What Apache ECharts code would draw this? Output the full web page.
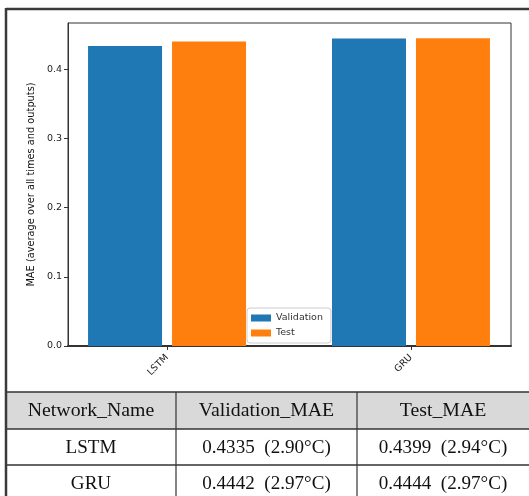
<!DOCTYPE html>
<html>
<head>
<meta charset="utf-8">
<script src="https://cdn.jsdelivr.net/npm/echarts@6/dist/echarts.min.js"></script>
<style>
html,body{margin:0;padding:0;background:#fff;}
#c{width:529px;height:496px;}
</style>
</head>
<body>
<div id="c"></div>
<script>
const categories = ['LSTM', 'GRU'];
const seriesNames = ['Validation', 'Test'];
const validationMAE = [0.4335, 0.4442];
const testMAE = [0.4399, 0.4444];
const validationDeg = ['2.90', '2.97'];
const testDeg = ['2.94', '2.97'];
const yTicks = [0, 0.1, 0.2, 0.3, 0.4];
const tableHeader = ['Network_Name', 'Validation_MAE', 'Test_MAE'];

const chart = echarts.init(document.getElementById('c'), null, {renderer: 'canvas'});

const tickFont = {fontFamily: 'DejaVu Sans', fontSize: 9.5, color: '#222'};

// Table geometry
const colX = [6, 176, 357, 529];
const colCenters = [91, 266.5, 443];
const rowY = [392, 429, 465, 500];
const rowCenters = [411, 448.5, 484];
const serif = {fontFamily: 'Liberation Serif', fontSize: 18, fill: '#111'};

const graphics = [];
graphics.push({type: 'rect', shape: {x: 6, y: rowY[0], width: 523, height: rowY[1] - rowY[0]}, style: {fill: '#d9d9d9'}, z: 0});
rowY.slice(0, 3).forEach(y => {
  graphics.push({type: 'line', shape: {x1: 6, y1: y, x2: 529, y2: y}, style: {stroke: '#333', lineWidth: 1.5}, z: 1});
});
[colX[1], colX[2]].forEach(x => {
  graphics.push({type: 'line', shape: {x1: x, y1: rowY[0], x2: x, y2: 496}, style: {stroke: '#333', lineWidth: 1.2}, z: 1});
});
graphics.push({type: 'line', shape: {x1: 6, y1: 9, x2: 529, y2: 9}, style: {stroke: '#3a3a3a', lineWidth: 2.5}, z: 2});
graphics.push({type: 'line', shape: {x1: 6, y1: 8, x2: 6, y2: 496}, style: {stroke: '#3a3a3a', lineWidth: 2.5}, z: 2});
tableHeader.forEach((t, i) => {
  graphics.push({type: 'text', x: colCenters[i], y: rowCenters[0], scaleX: 1.1,
    style: Object.assign({text: t, align: 'center', verticalAlign: 'middle'}, serif), z: 3});
});
categories.forEach((name, r) => {
  const cells = [
    name,
    validationMAE[r].toFixed(4) + '  (' + validationDeg[r] + '°C)',
    testMAE[r].toFixed(4) + '  (' + testDeg[r] + '°C)'
  ];
  cells.forEach((t, i) => {
    graphics.push({type: 'text', x: colCenters[i], y: rowCenters[r + 1], scaleX: 1.06,
      style: Object.assign({text: t, align: 'center', verticalAlign: 'middle'}, serif), z: 3});
  });
});

const option = {
  animation: false,
  backgroundColor: '#fff',
  grid: {left: 68, top: 23, right: 18, bottom: 150, show: true, borderColor: '#333', borderWidth: 1, backgroundColor: 'transparent'},
  legend: {
    data: seriesNames,
    orient: 'vertical',
    left: 247, top: 308,
    icon: 'rect', itemWidth: 20, itemHeight: 7, itemGap: 5,
    padding: [5, 8, 5, 4],
    borderColor: '#ccc', borderWidth: 1, borderRadius: 3,
    backgroundColor: '#fff',
    textStyle: {fontFamily: 'DejaVu Sans', fontSize: 9.5, color: '#333'}
  },
  xAxis: {
    type: 'value', min: -0.406, max: 1.41,
    splitLine: {show: false},
    axisLine: {show: true, onZero: false, lineStyle: {color: '#333', width: 2}},
    axisTick: {show: true, customValues: [0, 1], length: 4, lineStyle: {color: '#333'}},
    axisLabel: Object.assign({customValues: [0, 1], rotate: 45, margin: 10, formatter: v => categories[Math.round(v)] || ''}, tickFont)
  },
  yAxis: {
    type: 'value', min: 0, max: 0.4666, interval: 0.1,
    name: 'MAE (average over all times and outputs)',
    nameLocation: 'middle', nameGap: 31, nameRotate: 90,
    nameTextStyle: {fontFamily: 'DejaVu Sans', fontSize: 9.8, color: '#111'},
    splitLine: {show: false},
    axisLine: {show: true, onZero: false, lineStyle: {color: '#333', width: 1}},
    axisTick: {show: true, length: 4, lineStyle: {color: '#333'}, customValues: yTicks},
    axisLabel: Object.assign({customValues: yTicks, margin: 6, formatter: v => v.toFixed(1)}, tickFont)
  },
  series: [
    {name: seriesNames[0], type: 'bar', barWidth: 74, barGap: '13.5%', itemStyle: {color: '#1f77b4'},
     data: validationMAE.map((v, i) => [i, v])},
    {name: seriesNames[1], type: 'bar', barWidth: 74, barGap: '13.5%', itemStyle: {color: '#ff7f0e'},
     data: testMAE.map((v, i) => [i, v])}
  ],
  graphic: graphics
};
chart.setOption(option);
</script>
</body>
</html>
